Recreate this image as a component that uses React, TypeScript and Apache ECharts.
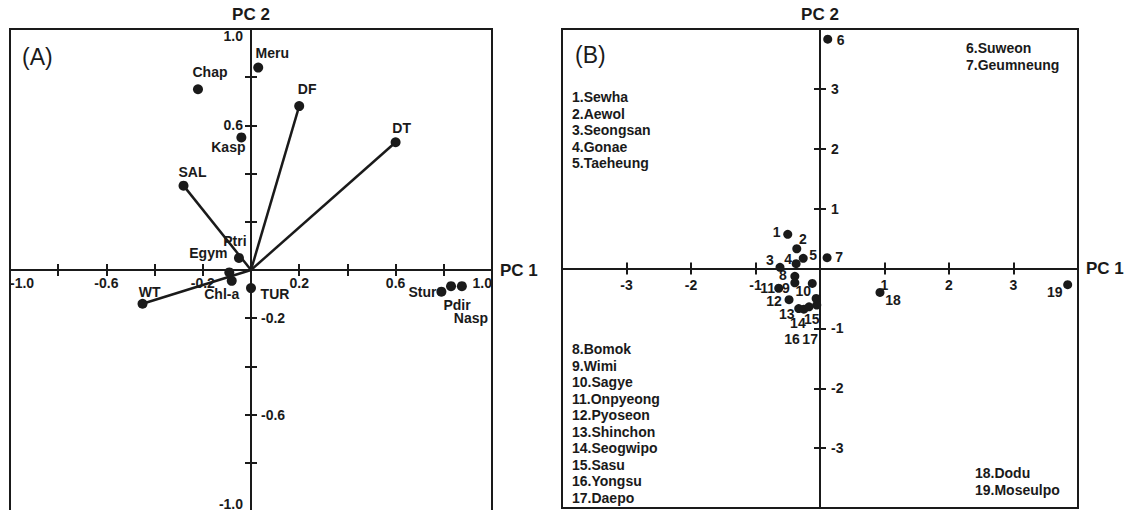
import { useEffect, useRef } from 'react';
import * as echarts from 'echarts';

// ---------- Data: panel (A) variable loadings ----------
const variableNames = ['Meru', 'Chap', 'Kasp', 'SAL', 'DF', 'DT', 'Ptri', 'Egym', 'Chl-a', 'WT', 'TUR', 'Stur', 'Pdir', 'Nasp'];
const variablePC1 = [0.03, -0.22, -0.04, -0.28, 0.2, 0.6, -0.05, -0.09, -0.08, -0.45, 0.0, 0.79, 0.83, 0.875];
const variablePC2 = [0.84, 0.75, 0.55, 0.35, 0.68, 0.53, 0.05, -0.01, -0.045, -0.14, -0.075, -0.09, -0.067, -0.067];
const vectorNames = ['SAL', 'DF', 'DT', 'WT'];

// ---------- Data: panel (B) site scores ----------
const siteNames = ['Sewha', 'Aewol', 'Seongsan', 'Gonae', 'Taeheung', 'Suweon', 'Geumneung', 'Bomok', 'Wimi', 'Sagye', 'Onpyeong', 'Pyoseon', 'Shinchon', 'Seogwipo', 'Sasu', 'Yongsu', 'Daepo', 'Dodu', 'Moseulpo'];
const sitePC1 = [-0.5, -0.36, -0.62, -0.37, -0.26, 0.12, 0.11, -0.39, -0.39, -0.12, -0.64, -0.48, -0.33, -0.25, -0.05, -0.17, -0.06, 0.93, 3.84];
const sitePC2 = [0.57, 0.33, 0.02, 0.08, 0.17, 3.83, 0.18, -0.13, -0.24, -0.25, -0.33, -0.52, -0.67, -0.68, -0.61, -0.64, -0.5, -0.4, -0.27];

// ---------- Axis ranges & tick labels ----------
const aRange = [-1, 1];
const bRange = [-4, 4];
const aXTickLabels = ['-1.0', '-0.6', '-0.2', '0.2', '0.6', '1.0'];
const aYTickLabelsLeft = ['1.0', '0.6', '-1.0'];
const aYTickLabelsRight = ['-0.2', '-0.6'];
const bTickLabels = ['-3', '-2', '-1', '1', '2', '3'];

// ---------- Legend groups for panel (B) (site numbers) ----------
const legendGroups = [
  [1, 2, 3, 4, 5],
  [6, 7],
  [8, 9, 10, 11, 12, 13, 14, 15, 16, 17],
  [18, 19],
];

// ---------- Layout (label placements, not data) ----------
const variableLabelOffset: Record<string, [number, number]> = {
  Meru: [14, -15], Chap: [12, -17], Kasp: [-13, 10], SAL: [9, -14], DF: [8, -17], DT: [6, -14],
  Ptri: [-4, -17], Egym: [-21, -19], 'Chl-a': [-10, 13], WT: [7, -12], TUR: [24, 6],
  Stur: [-19, 0], Pdir: [6, 19], Nasp: [9, 32],
};
const siteLabelOffset: [number, number][] = [
  [-11, -2], [6, -10], [-10, -7], [-8, -5], [10, -3], [13, 1], [12, -1], [-12, -1], [-9, 5],
  [-9, 8], [-11, 0], [-15, 1], [-12, 5], [-6, 14], [-5, 14], [-17, 32], [-6, 41], [13, 8], [-13, 7],
];
const legendPos: [number, number][] = [[572, 89], [966, 40], [572, 341], [975, 465]];
const gridA = { left: 10, top: 29, width: 482, height: 482 };
const gridB = { left: 562, top: 29, width: 516, height: 479 };

const FONT = '"Liberation Sans", Arial, sans-serif';
const INK = '#1a1a1a';

const tickLabelStyle = { fontFamily: FONT, fontWeight: 'bold' as const, fontSize: 14, color: INK };
const nameStyle = { fontFamily: FONT, fontWeight: 'bold' as const, fontSize: 17, color: INK };

export default function App() {
  const ref = useRef<HTMLDivElement>(null);

  useEffect(() => {
    if (!ref.current) return;
    const chart = echarts.init(ref.current, undefined, { renderer: 'svg' });

    const fmt1 = (list: string[]) => (v: number) => {
      const s = Number(v).toFixed(1);
      return list.includes(s) ? s : '';
    };
    const fmt0 = (list: string[]) => (v: number) => {
      const s = String(Math.round(Number(v)));
      return list.includes(s) ? s : '';
    };
    // Axes drawn through the middle of each (symmetric) grid: shifted by half the grid size.
    const axis = (gridIndex: number, range: number[], interval: number, position: string, offset: number, inside: boolean, extra: any) => ({
      type: 'value',
      gridIndex,
      min: range[0],
      max: range[1],
      interval,
      position,
      offset,
      splitLine: { show: false },
      axisLine: { show: true, onZero: false, lineStyle: { color: INK, width: 2 } },
      axisTick: { show: true, inside, length: 6, lineStyle: { color: INK, width: 2 } },
      axisLabel: { show: false },
      ...extra,
    });

    const aOffX = -gridA.height / 2;
    const aOffY = -gridA.width / 2;
    const bOffX = -gridB.height / 2;
    const bOffY = -gridB.width / 2;

    const xAxis = [
      axis(0, aRange, 0.2, 'bottom', aOffX, true, {}),
      axis(0, aRange, 0.2, 'bottom', aOffX, false, {
        name: 'PC 1', nameLocation: 'end', nameGap: 8, nameTextStyle: { ...nameStyle, verticalAlign: 'middle' },
        axisLabel: { ...tickLabelStyle, margin: 6, formatter: fmt1(aXTickLabels), showMinLabel: true, showMaxLabel: true, alignMinLabel: 'left', alignMaxLabel: 'right' },
      }),
      axis(1, bRange, 1, 'bottom', bOffX, true, {}),
      axis(1, bRange, 1, 'bottom', bOffX, false, {
        name: 'PC 1', nameLocation: 'end', nameGap: 8, nameTextStyle: { ...nameStyle, verticalAlign: 'middle' },
        axisLabel: { ...tickLabelStyle, margin: 9, formatter: fmt0(bTickLabels) },
      }),
    ];

    const yAxis = [
      axis(0, aRange, 0.2, 'left', aOffY, true, {
        axisLabel: { ...tickLabelStyle, inside: true, margin: 10, formatter: fmt1(aYTickLabelsRight) },
      }),
      axis(0, aRange, 0.2, 'left', aOffY, false, {
        name: 'PC 2', nameLocation: 'end', nameGap: 6, nameTextStyle: nameStyle,
        axisLabel: { ...tickLabelStyle, margin: 8, formatter: fmt1(aYTickLabelsLeft), showMinLabel: true, showMaxLabel: true, verticalAlignMinLabel: 'bottom', verticalAlignMaxLabel: 'top' },
      }),
      axis(1, bRange, 1, 'left', bOffY, true, {
        axisLabel: { ...tickLabelStyle, inside: true, margin: 11, formatter: fmt0(bTickLabels) },
      }),
      axis(1, bRange, 1, 'left', bOffY, false, {
        name: 'PC 2', nameLocation: 'end', nameGap: 6, nameTextStyle: nameStyle,
      }),
    ];

    const vectorSeries = vectorNames.map((n) => {
      const i = variableNames.indexOf(n);
      return {
        type: 'line',
        xAxisIndex: 0,
        yAxisIndex: 0,
        silent: true,
        symbol: 'none',
        z: 2,
        lineStyle: { color: INK, width: 2.5 },
        data: [[0, 0], [variablePC1[i], variablePC2[i]]],
      };
    });

    const variableSeries = {
      type: 'scatter',
      xAxisIndex: 0,
      yAxisIndex: 0,
      symbolSize: 10,
      z: 3,
      itemStyle: { color: INK, opacity: 1 },
      label: { show: true, position: 'inside', formatter: '{b}', ...tickLabelStyle },
      data: variableNames.map((n, i) => ({
        name: n,
        value: [variablePC1[i], variablePC2[i]],
        label: { offset: variableLabelOffset[n] || [0, -14] },
      })),
    };

    const siteSeries = {
      type: 'scatter',
      xAxisIndex: 2,
      yAxisIndex: 2,
      symbolSize: 9,
      z: 3,
      itemStyle: { color: INK, opacity: 1 },
      label: { show: true, position: 'inside', formatter: '{b}', ...tickLabelStyle },
      data: siteNames.map((_, i) => ({
        name: String(i + 1),
        value: [sitePC1[i], sitePC2[i]],
        label: { offset: siteLabelOffset[i] },
      })),
    };

    const legendTexts = legendGroups.map((g, gi) => ({
      type: 'text',
      x: legendPos[gi][0],
      y: legendPos[gi][1],
      silent: true,
      style: {
        text: g.map((k) => `${k}.${siteNames[k - 1]}`).join('\n'),
        font: `bold 14px ${FONT}`,
        fill: INK,
        lineHeight: 16.5,
        verticalAlign: 'top',
      },
    }));

    const gridStyle = { show: true, borderColor: INK, borderWidth: 2, backgroundColor: 'transparent', containLabel: false, outerBoundsMode: 'none' };

    chart.setOption({
      animation: false,
      backgroundColor: '#ffffff',
      grid: [
        { ...gridA, ...gridStyle },
        { ...gridB, ...gridStyle },
      ],
      xAxis,
      yAxis,
      series: [...vectorSeries, variableSeries, siteSeries],
      graphic: [
        { type: 'text', x: 22, y: 45, silent: true, style: { text: '(A)', font: `23px ${FONT}`, fill: INK, verticalAlign: 'top' } },
        { type: 'text', x: 575, y: 43, silent: true, style: { text: '(B)', font: `23px ${FONT}`, fill: INK, verticalAlign: 'top' } },
        ...legendTexts,
      ],
    });

    return () => chart.dispose();
  }, []);

  return (
    <div
      ref={ref}
      style={{ position: 'absolute', left: 0, top: 0, width: 1124, height: 510, background: '#fff' }}
    />
  );
}
